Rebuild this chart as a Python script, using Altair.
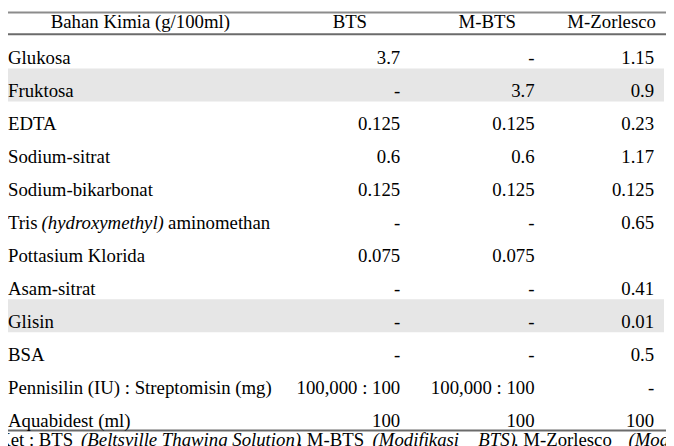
import altair as alt
import pandas as pd

# ---------------- data ----------------
HEADERS = ["Bahan Kimia (g/100ml)", "BTS", "M-BTS", "M-Zorlesco"]
ROWS = [
    "Glukosa",
    "Fruktosa",
    "EDTA",
    "Sodium-sitrat",
    "Sodium-bikarbonat",
    "Tris (hydroxymethyl) aminomethan",
    "Pottasium Klorida",
    "Asam-sitrat",
    "Glisin",
    "BSA",
    "Pennisilin (IU) : Streptomisin (mg)",
    "Aquabidest (ml)",
]
BTS = ["3.7", "-", "0.125", "0.6", "0.125", "-", "0.075", "-", "-", "-", "100,000 : 100", "100"]
MBTS = ["-", "3.7", "0.125", "0.6", "0.125", "-", "0.075", "-", "-", "-", "100,000 : 100", "100"]
MZOR = ["1.15", "0.9", "0.23", "1.17", "0.125", "0.65", "", "0.41", "0.01", "0.5", "-", "100"]
SHADED = ["Fruktosa", "Glisin"]
TRIS_ROW = "Tris (hydroxymethyl) aminomethan"
TRIS_PARTS = ["Tris", "(hydroxymethyl)", "aminomethan"]
TRIS_ITALIC = [False, True, False]
FOOT_PARTS = ["Ket : BTS", "(Beltsville Thawing Solution)", ", M-BTS",
              "(Modifikasi", "BTS)", ", M-Zorlesco", "(Modifikasi Zorlesco)"]
FOOT_ITALIC = [False, True, False, True, True, False, True]

# ---------------- layout / style ----------------
W, H = 666, 438
FONT = "Liberation Serif"
FS = 19
HEADER_KEY = "__header__"
HEADER_X = [134, 346, 485, 611]      # centres of header labels
VALUE_X = [397, 533, 654]            # right edges of value columns
LABEL_X = 0
TRIS_X = [0, 34, 162]
FOOT_X = [-11, 74, 293, 369, 476, 512, 628]
FOOT_Y = 441

yscale = alt.Scale(domain=[HEADER_KEY] + ROWS, type="band",
                   range=[-8.05, 425.7], paddingInner=0, paddingOuter=0)
Y = alt.Y("row:N", scale=yscale, axis=None)

rows_df = pd.DataFrame({"row": ROWS, "label": ROWS})
vals_df = pd.DataFrame({"row": ROWS, "BTS": BTS, "M-BTS": MBTS, "M-Zorlesco": MZOR})
head_df = pd.DataFrame({"row": [HEADER_KEY] * len(HEADERS), "label": HEADERS})
shade_df = pd.DataFrame({"row": SHADED})
rule_df = pd.DataFrame({"kind": ["top", "head", "bottom"]})

layers = []

# shaded rows
layers.append(
    alt.Chart(shade_df).mark_rect(color="#e6e6e6").encode(
        y=Y, x=alt.value(0), x2=alt.value(664)
    )
)

# top rule of the table, drawn as a thin filled band
layers.append(
    alt.Chart(rule_df).transform_filter(alt.datum.kind == "top")
    .mark_rect(color="#8c8c8c")
    .encode(x=alt.value(0), x2=alt.value(W), y=alt.value(1), y2=alt.value(3))
)

# rules
RULES = {"head": (24, "#6b6b6b", 2), "bottom": (425, "#6b6b6b", 2)}
for k, (yy, col, sw) in RULES.items():
    layers.append(
        alt.Chart(rule_df).transform_filter(alt.datum.kind == k)
        .mark_rule(color=col, strokeWidth=sw)
        .encode(x=alt.value(0), x2=alt.value(W), y=alt.value(yy))
    )

# header labels
for i, h in enumerate(HEADERS):
    layers.append(
        alt.Chart(head_df).transform_filter(alt.datum.label == h)
        .mark_text(font=FONT, fontSize=FS, color="#000000", baseline="middle",
                   align="center", dy=3)
        .encode(y=Y, x=alt.value(HEADER_X[i]), text="label:N")
    )

# row labels (without the Tris row, which has mixed styling)
layers.append(
    alt.Chart(rows_df).transform_filter(alt.datum.row != TRIS_ROW)
    .mark_text(font=FONT, fontSize=FS, color="#000000", baseline="middle",
               align="left", dy=6)
    .encode(y=Y, x=alt.value(LABEL_X), text="label:N")
)

# Tris row pieces
for i, part in enumerate(TRIS_PARTS):
    d = pd.DataFrame({"row": [TRIS_ROW], "label": [part]})
    layers.append(
        alt.Chart(d).mark_text(font=FONT, fontSize=FS, color="#000000",
                               baseline="middle", align="left", dy=6,
                               fontStyle="italic" if TRIS_ITALIC[i] else "normal")
        .encode(y=Y, x=alt.value(TRIS_X[i]), text="label:N")
    )

# values
for i, c in enumerate(["BTS", "M-BTS", "M-Zorlesco"]):
    layers.append(
        alt.Chart(vals_df).mark_text(font=FONT, fontSize=FS, color="#000000",
                                     baseline="middle", align="right", dy=6)
        .encode(y=Y, x=alt.value(VALUE_X[i]), text=f"{c}:N")
    )

# footnote
for i, part in enumerate(FOOT_PARTS):
    d = pd.DataFrame({"label": [part]})
    layers.append(
        alt.Chart(d).mark_text(font=FONT, fontSize=FS, color="#000000",
                               baseline="alphabetic", align="left",
                               fontStyle="italic" if FOOT_ITALIC[i] else "normal")
        .encode(x=alt.value(FOOT_X[i]), y=alt.value(FOOT_Y), text="label:N")
    )

chart = (
    alt.layer(*layers)
    .properties(width=W, height=H, autosize=alt.AutoSizeParams(type="none"), padding=0)
    .configure_view(stroke=None)
)

chart.save("out.html", embed_options={"renderer": "svg", "actions": False})
